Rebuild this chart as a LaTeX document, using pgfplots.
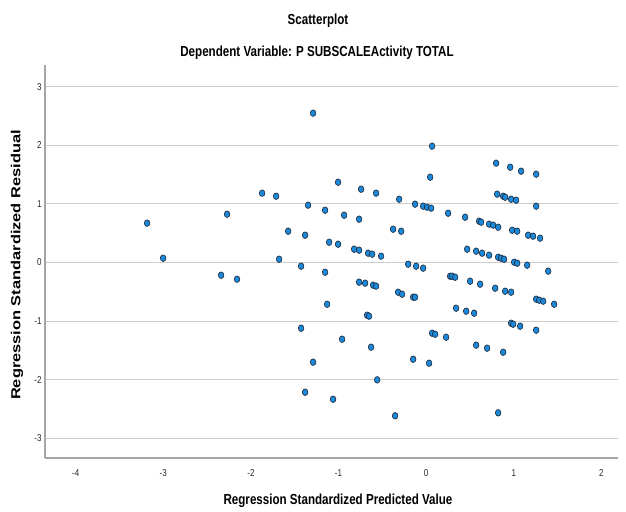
\documentclass[border=0pt]{standalone}
\usepackage{graphicx}
\usepackage{pgfplots}
\pgfplotsset{compat=1.18}
\usepackage{fontspec}
\setmainfont{Liberation Sans}[FakeStretch=0.8]
\newfontfamily\plainfont{Liberation Sans}
\definecolor{markblue}{RGB}{28,136,218}
\definecolor{markedge}{RGB}{30,40,55}
\definecolor{gridgray}{RGB}{205,205,205}
\definecolor{axisgray}{RGB}{165,165,165}
\begin{document}
\begin{tikzpicture}
\path[use as bounding box] (0pt,0pt) rectangle (626pt,511pt);
\begin{axis}[
  at={(45pt,53pt)}, anchor=south west,
  scale only axis, width=573pt, height=393pt,
  xmin=-4.35, xmax=2.19, ymin=-3.336, ymax=3.37,
  axis lines*=left,
  axis line style={draw=axisgray, line width=1.3pt},
  ymajorgrids, grid style={draw=gridgray, line width=1pt},
  xtick={-4,-3,-2,-1,0,1,2},
  xticklabels={-4,-3,-2,-1,0,1,2},
  ytick={-3,-2,-1,0,1,2,3},
  yticklabels={-3,-2,-1,0,1,2,3},
  major tick length=0pt,
  tick label style={font=\fontsize{10}{12}\selectfont, text=black!85},
  xticklabel style={yshift=-8pt},
  clip=false,
]
\addplot[only marks, mark=*, mark size=3.3pt,
  mark options={fill=markblue, draw=markedge, line width=0.6pt, xscale=0.85}]
  table[row sep=\\]{
x y\\
-3.185 0.671\\ -3.002 0.073\\ -2.272 0.824\\ -1.872 1.183\\ -1.712 1.131\\
-1.290 2.548\\ -1.005 1.370\\ -1.347 0.978\\ -1.153 0.892\\ -1.575 0.534\\
-1.381 0.466\\ -1.107 0.346\\ -1.005 0.312\\ -1.678 0.056\\ -2.340 -0.217\\
-2.158 -0.285\\ -1.427 -0.063\\ -1.153 -0.166\\ -1.130 -0.712\\ -1.427 -1.121\\
-1.290 -1.701\\ -1.381 -2.213\\ -1.062 -2.333\\ -0.959 -1.309\\
0.068 1.985\\ 0.046 1.456\\ -0.742 1.251\\ -0.571 1.183\\ -0.308 1.080\\
-0.126 0.995\\ -0.034 0.961\\ 0.011 0.944\\ 0.057 0.927\\ -0.936 0.807\\
-0.765 0.739\\ -0.377 0.568\\ -0.285 0.534\\ 0.251 0.841\\ 0.445 0.773\\
0.605 0.705\\ 0.628 0.688\\ 0.719 0.654\\ 0.765 0.637\\ 0.822 0.602\\
0.982 0.551\\ 1.039 0.534\\ 1.164 0.466\\ 1.221 0.449\\ 1.301 0.415\\
0.799 1.695\\ 0.959 1.626\\ 1.084 1.558\\ 1.256 1.507\\ 0.811 1.166\\
0.879 1.131\\ 0.902 1.114\\ 0.970 1.080\\ 1.027 1.063\\ 1.256 0.961\\
-0.822 0.227\\ -0.765 0.210\\ -0.662 0.159\\ -0.616 0.142\\ -0.514 0.108\\
0.468 0.227\\ 0.571 0.193\\ 0.639 0.159\\ 0.719 0.125\\ 0.822 0.090\\
0.856 0.073\\ 0.890 0.056\\ 1.005 0.005\\ 1.039 -0.012\\ 1.153 -0.046\\
1.393 -0.148\\ -0.205 -0.029\\ -0.114 -0.063\\ -0.034 -0.097\\
-0.765 -0.336\\ -0.696 -0.353\\ -0.605 -0.387\\ -0.571 -0.404\\ -0.320 -0.507\\
-0.274 -0.541\\ -0.148 -0.592\\ -0.126 -0.592\\ 0.274 -0.234\\ 0.297 -0.234\\
0.331 -0.251\\ 0.502 -0.319\\ 0.616 -0.370\\ 0.788 -0.439\\ 0.902 -0.490\\
0.970 -0.507\\ 1.256 -0.626\\ 1.290 -0.643\\ 1.336 -0.660\\ 1.461 -0.712\\
-0.674 -0.899\\ -0.651 -0.916\\ 0.342 -0.780\\ 0.457 -0.831\\ 0.548 -0.865\\
0.970 -1.036\\ 0.993 -1.053\\ 1.073 -1.087\\ 1.256 -1.155\\ -0.628 -1.445\\
0.068 -1.206\\ 0.103 -1.224\\ 0.228 -1.275\\ 0.571 -1.411\\ 0.696 -1.462\\
0.879 -1.531\\ -0.148 -1.650\\ 0.034 -1.718\\ -0.559 -2.002\\ -0.354 -2.616\\
0.822 -2.565\\
};
\end{axis}
\node[font=\fontsize{14.5}{16}\selectfont\bfseries] at (318pt,490pt) {Scatterplot};
\node[font=\fontsize{14.5}{16}\selectfont\bfseries] at (317pt,458pt) {Dependent Variable: P SUBSCALEActivity TOTAL};
\node[font=\fontsize{14.5}{16}\selectfont\bfseries] at (338pt,10pt) {Regression Standardized Predicted Value};
\node[rotate=90] at (17pt,246pt) {\scalebox{1}[0.8]{\plainfont\fontsize{16.4}{18}\selectfont\bfseries Regression Standardized Residual}};
\end{tikzpicture}
\end{document}
